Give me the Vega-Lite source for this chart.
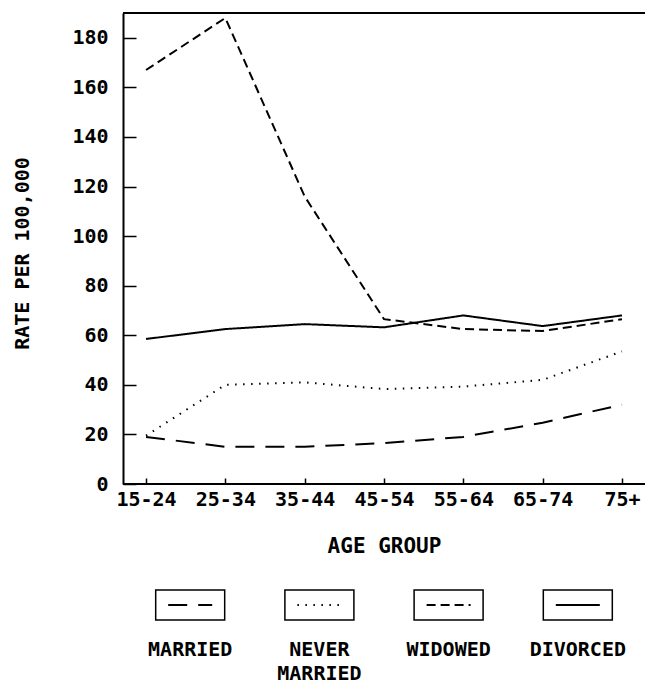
{
  "$schema": "https://vega.github.io/schema/vega-lite/v6.json",
  "padding": {"left": 12, "top": 12, "right": 0, "bottom": 0},
  "background": "white",
  "spacing": 0,
  "bounds": "flush",
  "config": {
    "view": {"stroke": null},
    "font": "DejaVu Sans Mono",
    "axis": {"labelFont": "DejaVu Sans Mono", "titleFont": "DejaVu Sans Mono", "labelColor": "black", "titleColor": "black", "domainColor": "black", "tickColor": "black", "titleFontWeight": "bold", "labelFontWeight": "bold", "grid": false}
  },
  "datasets": {
    "rates": [
      {"status": "MARRIED", "age": "15-24", "rate": 19},
      {"status": "MARRIED", "age": "25-34", "rate": 15},
      {"status": "MARRIED", "age": "35-44", "rate": 15},
      {"status": "MARRIED", "age": "45-54", "rate": 16.5},
      {"status": "MARRIED", "age": "55-64", "rate": 19},
      {"status": "MARRIED", "age": "65-74", "rate": 24.7},
      {"status": "MARRIED", "age": "75+", "rate": 32},
      {"status": "NEVER MARRIED", "age": "15-24", "rate": 19.5},
      {"status": "NEVER MARRIED", "age": "25-34", "rate": 40},
      {"status": "NEVER MARRIED", "age": "35-44", "rate": 41},
      {"status": "NEVER MARRIED", "age": "45-54", "rate": 38.3},
      {"status": "NEVER MARRIED", "age": "55-64", "rate": 39.3},
      {"status": "NEVER MARRIED", "age": "65-74", "rate": 42},
      {"status": "NEVER MARRIED", "age": "75+", "rate": 53.5},
      {"status": "WIDOWED", "age": "15-24", "rate": 167},
      {"status": "WIDOWED", "age": "25-34", "rate": 188},
      {"status": "WIDOWED", "age": "35-44", "rate": 116},
      {"status": "WIDOWED", "age": "45-54", "rate": 66.5},
      {"status": "WIDOWED", "age": "55-64", "rate": 62.5},
      {"status": "WIDOWED", "age": "65-74", "rate": 61.7},
      {"status": "WIDOWED", "age": "75+", "rate": 66.5},
      {"status": "DIVORCED", "age": "15-24", "rate": 58.5},
      {"status": "DIVORCED", "age": "25-34", "rate": 62.5},
      {"status": "DIVORCED", "age": "35-44", "rate": 64.5},
      {"status": "DIVORCED", "age": "45-54", "rate": 63.2},
      {"status": "DIVORCED", "age": "55-64", "rate": 68},
      {"status": "DIVORCED", "age": "65-74", "rate": 63.7},
      {"status": "DIVORCED", "age": "75+", "rate": 68}
    ],
    "legend": [
      {"status": "MARRIED", "label": "MARRIED"},
      {"status": "NEVER MARRIED", "label": "NEVER\nMARRIED"},
      {"status": "WIDOWED", "label": "WIDOWED"},
      {"status": "DIVORCED", "label": "DIVORCED"}
    ],
    "frame": [{"edge": "bottom", "rate": 0}, {"edge": "top", "rate": 190}]
  },
  "vconcat": [
    {
      "width": 522,
      "height": 471,
      "layer": [
        {
          "data": {"name": "rates"},
          "mark": {"type": "line", "stroke": "black", "strokeWidth": 2},
          "encoding": {
            "x": {
              "field": "age", "type": "ordinal", "sort": null,
              "scale": {"type": "point", "padding": 0.29},
              "axis": {"title": "AGE GROUP", "domain": false, "labelAngle": 0, "labelFontSize": 20, "labelPadding": 11, "tickSize": -6, "tickWidth": 1.5, "titleFontSize": 21, "titleY": 62, "titleBaseline": "middle"}
            },
            "y": {
              "field": "rate", "type": "quantitative",
              "scale": {"domain": [0, 190], "nice": false},
              "axis": {"title": "RATE PER 100,000", "values": [0, 20, 40, 60, 80, 100, 120, 140, 160, 180], "domainWidth": 2, "labelFontSize": 20, "tickSize": -13, "tickWidth": 1.5, "labelPadding": 28, "titleFontSize": 20, "titleX": -101, "titleY": 240, "titleAngle": -90, "titleBaseline": "middle", "titleAlign": "center"}
            },
            "detail": {"field": "status"},
            "strokeDash": {
              "field": "status", "type": "nominal",
              "scale": {"domain": ["MARRIED", "NEVER MARRIED", "WIDOWED", "DIVORCED"], "range": [[19, 11], [1.5, 6.5], [9, 5], [1, 0]]},
              "legend": null
            }
          }
        },
        {
          "data": {"name": "frame"},
          "mark": {"type": "rule", "stroke": "black", "strokeWidth": 2},
          "encoding": {"y": {"field": "rate", "type": "quantitative"}}
        }
      ]
    },
    {
      "width": 522,
      "height": 203,
      "data": {"name": "legend"},
      "layer": [
        {
          "mark": {"type": "rect", "fill": "white", "stroke": "black", "strokeWidth": 1.5, "width": 69},
          "encoding": {
            "x": {"field": "status", "type": "nominal", "sort": null, "scale": {"type": "point", "padding": 0.52}, "axis": null},
            "y": {"value": 106},
            "y2": {"value": 136}
          }
        },
        {
          "mark": {"type": "point", "shape": "stroke", "size": 1936, "stroke": "black", "strokeWidth": 2, "opacity": 1},
          "encoding": {
            "x": {"field": "status", "type": "nominal", "sort": null, "scale": {"type": "point", "padding": 0.52}, "axis": null},
            "y": {"value": 121},
            "strokeDash": {
              "field": "status", "type": "nominal",
              "scale": {"domain": ["MARRIED", "NEVER MARRIED", "WIDOWED", "DIVORCED"], "range": [[19, 11], [1.5, 6.5], [9, 5], [1, 0]]},
              "legend": null
            }
          }
        },
        {
          "mark": {"type": "text", "fontSize": 20, "fontWeight": "bold", "font": "DejaVu Sans Mono", "baseline": "top", "align": "center", "lineBreak": "\n", "lineHeight": 24, "color": "black"},
          "encoding": {
            "x": {"field": "status", "type": "nominal", "sort": null, "scale": {"type": "point", "padding": 0.52}, "axis": null},
            "y": {"value": 156},
            "text": {"field": "label"}
          }
        }
      ]
    }
  ]
}
